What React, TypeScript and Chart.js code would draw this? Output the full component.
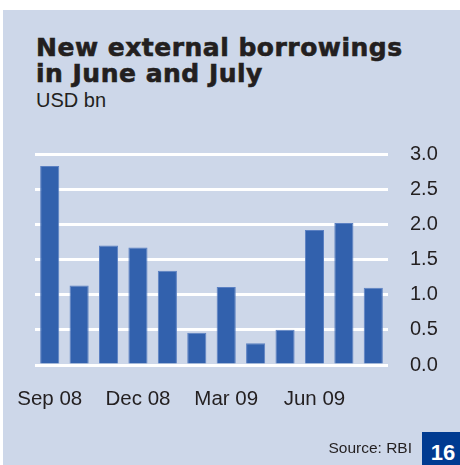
import React, { useEffect, useRef } from "react";
import { Chart, registerables } from "chart.js";

Chart.register(...registerables);

const categories = [
  "Sep 08", "Oct 08", "Nov 08", "Dec 08", "Jan 09", "Feb 09",
  "Mar 09", "Apr 09", "May 09", "Jun 09", "Jul 09", "Aug 09",
];
const borrowings = [2.83, 1.13, 1.70, 1.67, 1.34, 0.46, 1.11, 0.31, 0.50, 1.92, 2.02, 1.10];
const shownLabels = ["Sep 08", "Dec 08", "Mar 09", "Jun 09"];
const yTicks = [0, 0.5, 1.0, 1.5, 2.0, 2.5, 3.0];

const TEXT = "#231f20";
const PANEL = "#cdd7e9";
const BAR = "#3261ad";
const SANS = "'Liberation Sans', Arial, sans-serif";

export default function App() {
  const ref = useRef<HTMLCanvasElement | null>(null);

  useEffect(() => {
    if (!ref.current) return;
    const chart = new Chart(ref.current, {
      type: "bar",
      data: {
        labels: categories,
        datasets: [
          {
            data: borrowings,
            backgroundColor: BAR,
            borderColor: "#5b80c2",
            borderWidth: 1,
            categoryPercentage: 1,
            barPercentage: 0.65,
          },
        ],
      },
      options: {
        responsive: false,
        animation: false,
        layout: { padding: { left: 35, top: 154, right: 0, bottom: 0 } },
        plugins: { legend: { display: false }, tooltip: { enabled: false } },
        scales: {
          x: {
            grid: { display: false, drawTicks: false },
            border: { display: false },
            ticks: {
              autoSkip: false,
              maxRotation: 0,
              padding: 22,
              color: TEXT,
              font: { family: SANS, size: 20.5 },
              callback: (_v: any, i: number) =>
                shownLabels.includes(categories[i]) ? categories[i] : "",
            },
            afterFit: (s: any) => {
              s.height = 100;
              s.paddingLeft = 0;
              s.paddingRight = 0;
            },
          },
          y: {
            position: "right",
            min: yTicks[0],
            max: yTicks[yTicks.length - 1],
            grid: { color: "#ffffff", lineWidth: 3, drawTicks: false },
            border: { display: false },
            ticks: {
              stepSize: 0.5,
              padding: 22,
              color: TEXT,
              font: { family: SANS, size: 20 },
              callback: (v: any) => Number(v).toFixed(1),
            },
            afterFit: (s: any) => {
              s.width = 72;
              s.paddingTop = 0;
              s.paddingBottom = 0;
            },
          },
        },
      },
    });
    return () => chart.destroy();
  }, []);

  return (
    <div style={{ position: "fixed", left: 0, top: 0, width: 460, height: 465, background: "#fff", overflow: "hidden" }}>
      <div style={{ position: "absolute", left: 3, top: 10, width: 457, height: 455, background: PANEL }} />
      <div
        style={{
          position: "absolute",
          left: 36,
          top: 34.5,
          fontFamily: "'DejaVu Sans', sans-serif",
          fontWeight: 700,
          fontSize: 25,
          letterSpacing: "0.5px",
          lineHeight: "26px",
          color: TEXT,
          whiteSpace: "nowrap",
          WebkitTextStroke: "0.6px " + TEXT,
        }}
      >
        New external borrowings
        <br />
        in June and July
      </div>
      <div
        style={{
          position: "absolute",
          left: 36,
          top: 90,
          fontFamily: SANS,
          fontSize: 20,
          lineHeight: "20px",
          color: TEXT,
          whiteSpace: "nowrap",
        }}
      >
        USD bn
      </div>
      <canvas ref={ref} width={460} height={465} style={{ position: "absolute", left: 0, top: 0, width: 460, height: 465 }} />
      <div
        style={{
          position: "absolute",
          right: 48,
          top: 440,
          fontFamily: SANS,
          fontSize: 15.5,
          lineHeight: "15.5px",
          color: TEXT,
          whiteSpace: "nowrap",
        }}
      >
        Source: RBI
      </div>
      <div style={{ position: "absolute", left: 422, top: 432, width: 38, height: 33, background: "#003b91" }} />
      <div
        style={{
          position: "absolute",
          left: 424,
          top: 442,
          width: 38,
          textAlign: "center",
          fontFamily: SANS,
          fontWeight: 700,
          fontSize: 22,
          lineHeight: "22px",
          color: "#fff",
        }}
      >
        16
      </div>
    </div>
  );
}
